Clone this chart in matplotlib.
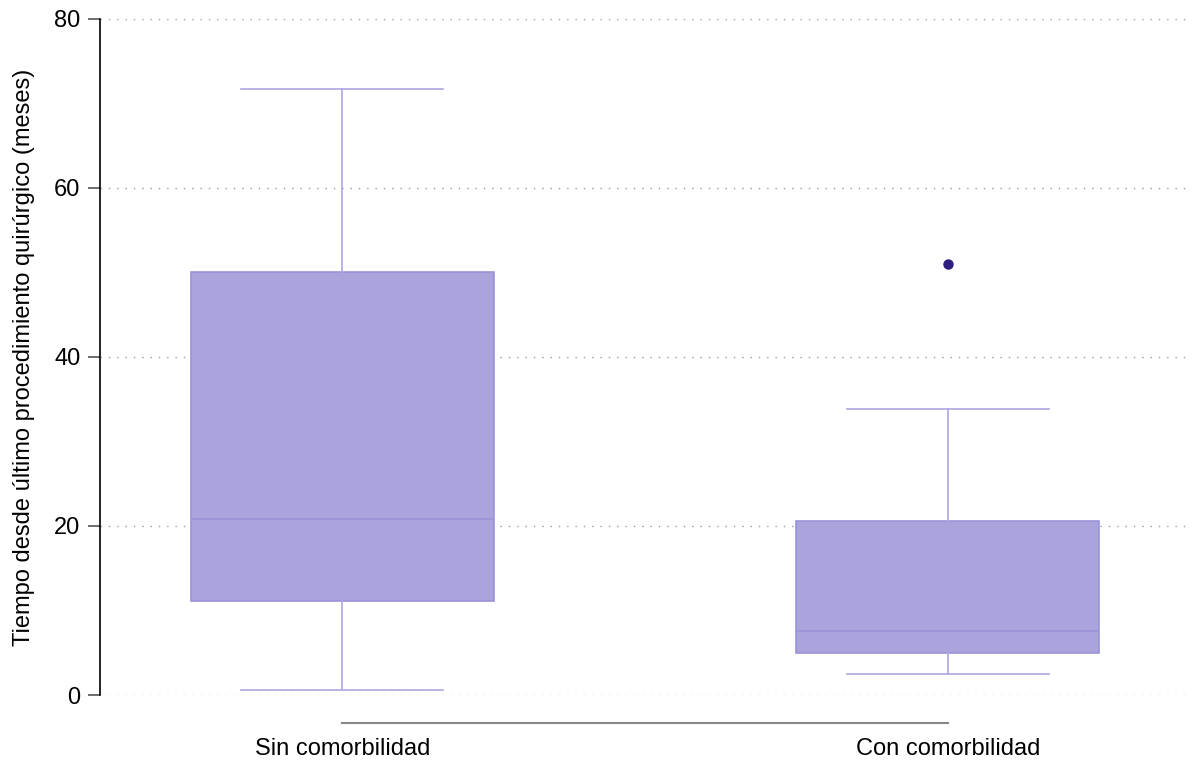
import matplotlib.pyplot as plt

plt.rcParams['font.family'] = ['Liberation Sans', 'DejaVu Sans']

# resumen de cada grupo (meses)
grupos = ["Sin comorbilidad", "Con comorbilidad"]
bigote_inf = [0.6, 2.5]
q1 = [11.1, 5.0]
mediana = [20.8, 7.6]
q3 = [50.0, 20.6]
bigote_sup = [71.7, 33.8]
atipicos = [[], [51.0]]

relleno = "#a9a5dc"
borde = "#9a92d9"
color_punto = "#2e1f7f"

stats = []
for i in range(len(grupos)):
    stats.append({
        "label": grupos[i],
        "whislo": bigote_inf[i],
        "q1": q1[i],
        "med": mediana[i],
        "q3": q3[i],
        "whishi": bigote_sup[i],
        "fliers": atipicos[i],
    })

fig = plt.figure(figsize=(11.93, 7.65), dpi=100)
ax = fig.add_axes([0.0838, 0.0915, 0.9137, 0.8837])

ax.bxp(stats, positions=[1, 2], widths=0.5, patch_artist=True, showfliers=True,
       boxprops=dict(facecolor=relleno, edgecolor=borde, linewidth=1.2),
       medianprops=dict(color=borde, linewidth=1.2),
       whiskerprops=dict(color="#aea7e2", linewidth=1.2),
       capprops=dict(color="#aea7e2", linewidth=1.2),
       capwidths=0.333,
       flierprops=dict(marker="o", markersize=6.5, markerfacecolor=color_punto,
                       markeredgecolor=color_punto))

ax.set_xlim(0.6, 2.4)
ax.set_ylim(0, 80)
ax.set_yticks([0, 20, 40, 60, 80])
ax.yaxis.grid(True, linestyle=(0, (1, 5)), color="#9a9a9a", linewidth=1)
ax.set_axisbelow(True)

ax.spines['top'].set_visible(False)
ax.spines['right'].set_visible(False)
ax.spines['left'].set_color("black")
ax.spines['left'].set_linewidth(1.2)
ax.spines['bottom'].set_position(('outward', 20))
ax.spines['bottom'].set_bounds(1, 2)
ax.spines['bottom'].set_color("#888888")
ax.spines['bottom'].set_linewidth(1.5)

ax.tick_params(axis='y', length=9, width=1.2, color="#555555", labelsize=17, pad=5)
ax.tick_params(axis='x', length=0, labelsize=17, pad=11)
ax.set_xticks([1, 2])
ax.set_xticklabels(grupos)
ax.set_ylabel("Tiempo desde último procedimiento quirúrgico (meses)", fontsize=17, labelpad=14)

fig.savefig("out.png", dpi=100)
